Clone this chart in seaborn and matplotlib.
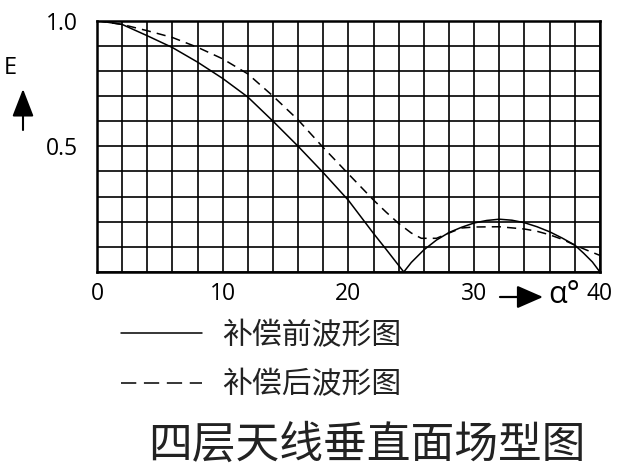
import numpy as np
import pandas as pd
import matplotlib
matplotlib.use('Agg')
import matplotlib.pyplot as plt
import seaborn as sns

# style
sns.set_theme(style="white")
plt.rcParams['font.family'] = ['Open Sans', 'Noto Sans CJK SC', 'DejaVu Sans']

# dados (alfa em graus, E normalizado)
alfa_antes = [0, 2, 4, 6, 8, 10, 12, 14, 16, 18, 20, 22, 23, 24.4, 25, 26, 27, 28, 29, 30,
              31, 32, 33, 34, 35, 36, 37, 38, 38.7, 39.4, 40]
e_antes = [1.0, 0.985, 0.94, 0.893, 0.835, 0.77, 0.696, 0.60, 0.50, 0.395, 0.285, 0.153, 0.09,
           0.0, 0.038, 0.088, 0.127, 0.157, 0.178, 0.195, 0.205, 0.21, 0.206, 0.196, 0.18,
           0.16, 0.135, 0.107, 0.075, 0.04, 0.0]

alfa_depois = [0, 2, 4, 6, 8, 10, 12, 14, 16, 18, 20, 22, 23, 24, 25, 25.8, 27, 28, 29, 30,
               32, 34, 35, 36, 37, 38, 39, 40]
e_depois = [1.0, 0.985, 0.96, 0.933, 0.894, 0.848, 0.788, 0.70, 0.605, 0.495, 0.39, 0.286,
            0.238, 0.193, 0.155, 0.134, 0.134, 0.155, 0.175, 0.179, 0.18, 0.171, 0.162, 0.148,
            0.13, 0.107, 0.086, 0.066]

legenda = ['补偿前波形图', '补偿后波形图']
titulo = '四层天线垂直面场型图'
x_ticks = [0, 10, 20, 30, 40]
y_ticks = [0.5, 1.0]

df = pd.concat([
    pd.DataFrame({'alfa': alfa_antes, 'E': e_antes, 'curva': legenda[0]}),
    pd.DataFrame({'alfa': alfa_depois, 'E': e_depois, 'curva': legenda[1]}),
])

fig = plt.figure(figsize=(6.24, 4.76), dpi=100)
ax = fig.add_axes([0.1554, 0.4286, 0.806, 0.528])

sns.lineplot(data=df[df['curva'] == legenda[0]], x='alfa', y='E', ax=ax,
             color='black', lw=1.1, label=legenda[0], sort=False)
sns.lineplot(data=df[df['curva'] == legenda[1]], x='alfa', y='E', ax=ax,
             color='black', lw=1.1, linestyle=(0, (6, 4)), label=legenda[1], sort=False)

ax.set_xlim(0, 40)
ax.set_ylim(0, 1.0)
ax.set_xticks(x_ticks)
ax.set_xticks(np.arange(0, 41, 2), minor=True)
ax.set_yticks(y_ticks)
ax.set_yticks(np.arange(0, 1.01, 0.1), minor=True)
ax.set_xticklabels([str(t) for t in x_ticks])
ax.set_yticklabels([f'{t:.1f}' for t in y_ticks])
ax.tick_params(axis='both', which='both', length=0, labelsize=16.5, colors='black')
ax.tick_params(axis='x', pad=7)
ax.tick_params(axis='y', pad=14)
ax.grid(which='both', color='black', lw=1.2)
ax.set_xlabel('')
ax.set_ylabel('')
for s in ax.spines.values():
    s.set_color('black')
    s.set_linewidth(1.8)

# legenda
leg = ax.legend(loc='upper left', bbox_to_anchor=(94 / 624, 1 - 293 / 476),
                bbox_transform=fig.transFigure, frameon=False,
                handlelength=2.7, handletextpad=0.7, labelspacing=0.62,
                prop={'family': ['Noto Sans CJK SC'], 'size': 21.5})
for t in leg.get_texts():
    t.set_color('#222222')
leg.get_lines()[1].set_dashes((10, 5))

# seta do eixo y e rótulo E
fig.text(10 / 624, 1 - 68 / 476, 'E', fontsize=17, ha='center', va='center', color='black')
ax.annotate('', xy=(23, 476 - 89), xytext=(23, 476 - 130), xycoords='figure pixels',
            textcoords='figure pixels',
            arrowprops=dict(arrowstyle='-|>,head_length=0.85,head_width=0.33',
                            mutation_scale=20, color='black', lw=1.5,
                            shrinkA=0, shrinkB=0))

# seta do eixo x e alfa
ax.annotate('', xy=(543, 476 - 297), xytext=(500, 476 - 297), xycoords='figure pixels',
            textcoords='figure pixels',
            arrowprops=dict(arrowstyle='-|>,head_length=0.8,head_width=0.35',
                            mutation_scale=20, color='black', lw=1.6,
                            shrinkA=0, shrinkB=0))
fig.text(580 / 624, 1 - 295 / 476, 'α°', fontsize=22, ha='right', va='center', color='black')

fig.text(367 / 624, 1 - 445 / 476, titulo, fontsize=31.5, ha='center', va='center',
         family=['Noto Sans CJK SC'], fontweight='light', color='#222222')

plt.savefig('out.png', dpi=100)
plt.close()
